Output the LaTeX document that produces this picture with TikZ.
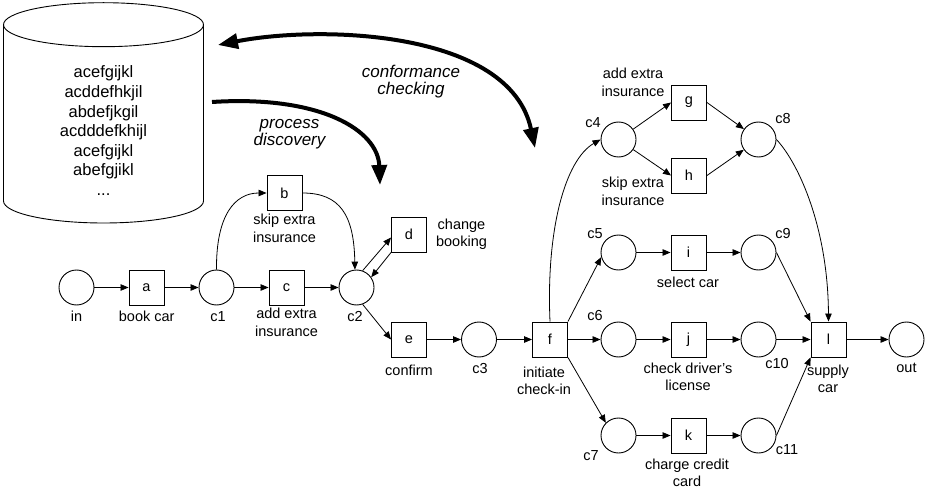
\documentclass[tikz,border=0pt]{standalone}
\usepackage{fontspec}
\setmainfont{Liberation Sans}
\usetikzlibrary{arrows.meta}

\begin{document}
\begin{tikzpicture}[x=1pt,y=1pt,
  place/.style={circle,draw,line width=0.9pt,minimum size=35pt,inner sep=0pt},
  trans/.style={rectangle,draw,line width=0.9pt,minimum size=35pt,inner sep=0pt,
    font=\fontsize{14.5}{17.5}\selectfont},
  % multi-line labels are placed by the baseline of their last line
  lbl/.style={align=center,inner sep=0pt,anchor=base,font=\fontsize{14.5}{17.5}\selectfont},
  bigtext/.style={align=center,inner sep=0pt,anchor=base,font=\fontsize{17}{16.7}\selectfont\itshape},
  arc/.style={line width=0.8pt,-{Triangle[length=8pt,width=6.5pt]}},
  big/.style={line width=4pt,-{Triangle[length=20pt,width=15pt]}},
]
\useasboundingbox (0,0) rectangle (926,-489);

% event log store
\draw[line width=0.9pt,fill=white] (3.5,-24.7) -- (3.5,-201)
  arc[start angle=180,end angle=360,x radius=100,y radius=22] -- (203.5,-24.7);
\draw[line width=0.9pt] (103.5,-24.7) ellipse [x radius=100,y radius=22];
\node[align=center,inner sep=0pt,anchor=base,font=\fontsize{16.5}{19.6}\selectfont]
  (log) at (103.5,-195.6) {acefgijkl\\acddefhkjil\\abdefjkgil\\acdddefkhijl\\acefgijkl\\abefgjikl\\...};

% discovered model, first part
\node[place] (in) at (76.5,-287.5) {};
\node[trans] (a)  at (146.5,-287.5) {a};
\node[place] (c1) at (216.5,-287.5) {};
\node[trans] (c)  at (286.5,-287.5) {c};
\node[place] (c2) at (356.5,-287.5) {};
\node[trans] (b)  at (284.5,-193) {b};
\node[trans] (d)  at (409,-234.5) {d};
\node[trans] (e)  at (409,-339.5) {e};
\node[place] (c3) at (479,-339.5) {};
\node[trans] (f)  at (550,-339.5) {f};

% second part
\node[place] (c4)  at (618.5,-139.5) {};
\node[trans] (g)   at (689,-102.5) {g};
\node[trans] (h)   at (689,-175.5) {h};
\node[place] (c8)  at (758.5,-139.5) {};
\node[place] (c5)  at (618.5,-252.5) {};
\node[trans] (i)   at (688.5,-252.5) {i};
\node[place] (c9)  at (758.5,-252.5) {};
\node[place] (c6)  at (618.5,-339.5) {};
\node[trans] (j)   at (688.5,-339.5) {j};
\node[place] (c10) at (758.5,-339.5) {};
\node[trans] (l)   at (828.5,-339.5) {l};
\node[place] (out) at (906.5,-339.5) {};
\node[place] (c7)  at (618.5,-435.5) {};
\node[trans] (k)   at (688.5,-435.5) {k};
\node[place] (c11) at (758.5,-435.5) {};

% labels
\node[lbl] (lin)  at (76.5,-321) {in};
\node[lbl] (la)   at (146.7,-321) {book car};
\node[lbl] (lc1)  at (218,-321) {c1};
\node[lbl] (lc)   at (286.5,-336) {add extra\\insurance};
\node[lbl] (lc2)  at (355,-321) {c2};
\node[lbl] (lb)   at (284.5,-242) {skip extra\\insurance};
\node[lbl] (ld)   at (461.5,-247) {change\\booking};
\node[lbl] (le)   at (409,-375) {confirm};
\node[lbl] (lc3)  at (480,-373) {c3};
\node[lbl] (lf)   at (544,-394.5) {initiate\\check-in};
\node[lbl] (lc4)  at (593,-128) {c4};
\node[lbl] (lg)   at (633,-96.5) {add extra\\insurance};
\node[lbl] (lh)   at (633,-205.5) {skip extra\\insurance};
\node[lbl] (lc8)  at (783,-124) {c8};
\node[lbl] (lc5)  at (595,-238) {c5};
\node[lbl] (li)   at (688,-287) {select car};
\node[lbl] (lc9)  at (783,-238) {c9};
\node[lbl] (lc6)  at (595,-320) {c6};
\node[lbl] (lj)   at (688,-390.5) {check driver’s\\license};
\node[lbl] (lc10) at (777,-368) {c10};
\node[lbl] (ll)   at (828,-392.5) {supply\\car};
\node[lbl] (lout) at (906.5,-372) {out};
\node[lbl] (lc7)  at (591,-460) {c7};
\node[lbl] (lk)   at (687,-486.5) {charge credit\\card};
\node[lbl] (lc11) at (787,-454) {c11};

% arcs of the first part
\draw[arc] (in) -- (a);
\draw[arc] (a) -- (c1);
\draw[arc] (c1) -- (c);
\draw[arc] (c) -- (c2);
\draw[arc] (c1.north) .. controls (216,-215) and (235,-193) .. (b.west);
\draw[arc] (b.east) .. controls (340,-193) and (354,-215) .. (c2.95);
\draw[arc] (c2.70) -- ([yshift=-3pt]d.west);
\draw[arc] (d.south west) -- (c2.35);
\draw[arc] (c2.-70) -- (e.west);
\draw[arc] (e) -- (c3);
\draw[arc] (c3) -- (f);

% arcs of the second part
\draw[arc] (f) -- (c6);
\draw[arc] (f.north) .. controls (546,-230) and (565,-160) .. (c4.west);
\draw[arc] (f.north east) -- (c5.195);
\draw[arc] (f.south east) -- (c7.135);
\draw[arc] (c4) -- (g.west);
\draw[arc] (c4) -- (h.west);
\draw[arc] (g.east) -- (c8);
\draw[arc] (h.east) -- (c8);
\draw[arc] (c5) -- (i);
\draw[arc] (i) -- (c9);
\draw[arc] (c6) -- (j);
\draw[arc] (j) -- (c10);
\draw[arc] (c7) -- (k);
\draw[arc] (k) -- (c11);
\draw[arc] (c8.east) .. controls (800,-165) and (828,-230) .. (l.north);
\draw[arc] (c9.east) -- (l.north west);
\draw[arc] (c10) -- (l);
\draw[arc] (c11.east) -- (l.south west);
\draw[arc] (l) -- (out);

% discovery and conformance arrows
\coordinate (pdS) at (212,-102);
\coordinate (pdE) at (380,-185);
\draw[big] (pdS) .. controls (320,-95) and (378,-130) .. (pdE);
\node[bigtext] (pd) at (289.5,-145.7) {process\\discovery};

\coordinate (ccA) at (218,-45);
\coordinate (ccB) at (535,-148);
\draw[big,{Triangle[length=20pt,width=15pt]}-{Triangle[length=20pt,width=15pt]}]
  (ccA) .. controls (320,-25) and (510,-30) .. (ccB);
\node[bigtext] (cc) at (411,-94.2) {conformance\\checking};
\end{tikzpicture}
\end{document}
